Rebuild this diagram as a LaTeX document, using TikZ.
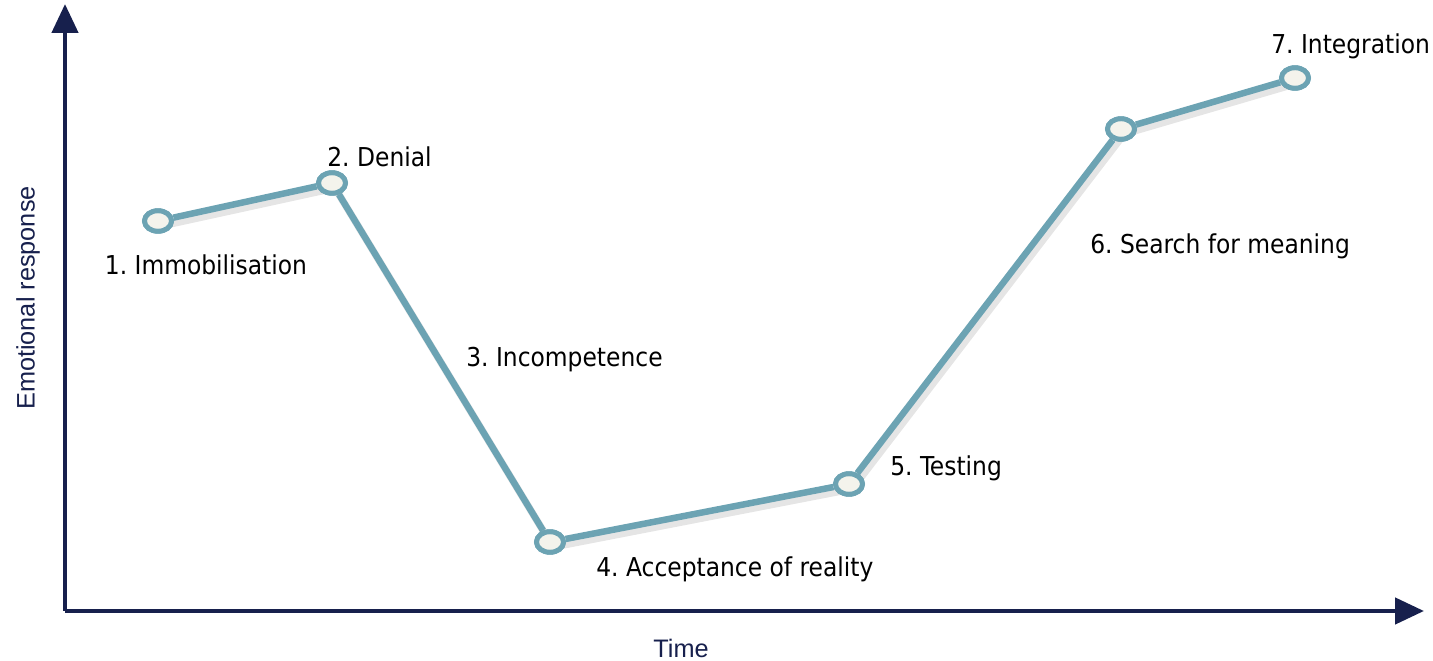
\documentclass[tikz,border=0pt]{standalone}
\usepackage{fontspec}
\setmainfont{DejaVu Sans Condensed}
\newfontfamily\axisfont{Liberation Sans}
\usetikzlibrary{arrows.meta,shapes.geometric}
\frenchspacing

\definecolor{axisblue}{HTML}{17204D}
\definecolor{curveteal}{HTML}{6CA3B3}
\definecolor{markfill}{HTML}{F4F3EC}

\tikzset{
  axis/.style={draw=axisblue,line width=2.6pt,-{Triangle[length=0.58cm,width=0.52cm]}},
  curve/.style={draw=curveteal,line width=3.7pt},
  shade/.style={draw=black,opacity=0.1,line width=4.2pt},
  stage/.style={ellipse,draw=curveteal,fill=markfill,line width=2.8pt,
    minimum width=0.54cm,minimum height=0.41cm,inner sep=0pt},
  stagelabel/.style={font=\fontsize{14.8}{17}\selectfont,inner sep=0pt},
  axislabel/.style={font=\axisfont\fontsize{14.4}{16}\selectfont,text=axisblue,inner sep=0pt}
}

\begin{document}
\begin{tikzpicture}[x=0.02cm,y=-0.02cm]
	\useasboundingbox (0,0) rectangle (1433,661);
	% axes
	\coordinate (o) at (65,611);
	\coordinate (ytip) at (65,4);
	\coordinate (xtip) at (1424,611);
	\draw[axis] (o) -- (ytip);
	\draw[axis] (o) -- (xtip);
	\node[axislabel,rotate=90] (ylab) at (28,298) {Emotional response};
	\node[axislabel] (xlab) at (681,648) {Time};
	% stages of the curve
	\node[stage] (p1) at (158,221) {};
	\node[stage] (p2) at (332,183) {};
	\node[stage] (p4) at (550,542) {};
	\node[stage] (p5) at (849,484) {};
	\node[stage] (p6) at (1121,129) {};
	\node[stage] (p7) at (1295,78) {};
	\draw[shade] (161,226) -- (335,188) -- (553,547) -- (852,489) -- (1124,134) -- (1298,83);
	\draw[curve] (p1) -- (p2);
	\draw[curve] (p2) -- (p4);
	\draw[curve] (p4) -- (p5);
	\draw[curve] (p5) -- (p6);
	\draw[curve] (p6) -- (p7);
	\foreach \p in {p1,p2,p4,p5,p6,p7}
		\node[stage] at (\p) {};
	% labels
	\node[stagelabel] (l1) at (206,265) {1. Immobilisation};
	\node[stagelabel,anchor=west] (l2) at (327,157) {2. Denial};
	\node[stagelabel,anchor=west] (l3) at (466,360) {3. Incompetence};
	\node[stagelabel,anchor=west] (l4) at (596,569) {4. Acceptance of reality};
	\node[stagelabel,anchor=west] (l5) at (890,468) {5. Testing};
	\node[stagelabel,anchor=west] (l6) at (1090,246) {6. Search for meaning};
	\node[stagelabel,anchor=west] (l7) at (1271,46) {7. Integration};
\end{tikzpicture}
\end{document}
